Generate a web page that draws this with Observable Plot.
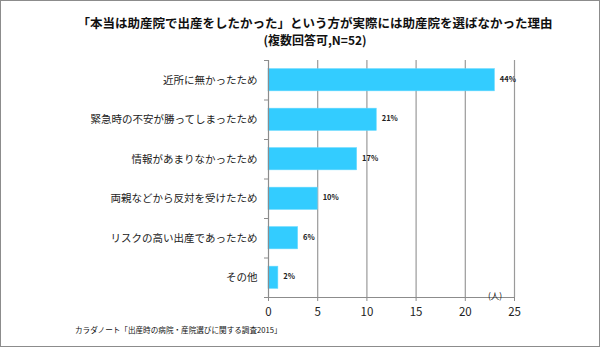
<!DOCTYPE html>
<html><head><meta charset="utf-8">
<script src="https://cdn.jsdelivr.net/npm/d3@7"></script>
<script src="https://cdn.jsdelivr.net/npm/@observablehq/plot@0.6"></script>
<style>
html,body{margin:0;padding:0;background:#fff;}
#wrap{position:relative;width:600px;height:347px;overflow:hidden;font-family:"Noto Sans CJK JP",sans-serif;}
#frame{position:absolute;left:0;top:0;width:598px;height:345px;border:1px solid #8c8c8c;pointer-events:none;}
.t{position:absolute;white-space:nowrap;color:#111;}
#title{left:0;width:630px;text-align:center;top:13px;font-size:12.5px;font-weight:bold;}
#sub{left:0;width:630px;text-align:center;top:31px;font-size:12px;font-weight:bold;}
#unit{left:488px;top:289px;font-size:8.5px;}
#cap{left:75px;top:324px;font-size:7.6px;}
svg{position:absolute;left:0;top:0;}
</style></head><body>
<div id="wrap">
<div id="chart"></div>
<div class="t" id="title">「本当は助産院で出産をしたかった」という方が実際には助産院を選ばなかった理由</div>
<div class="t" id="sub">(複数回答可,N=52)</div>
<div class="t" id="unit">(人)</div>
<div class="t" id="cap">カラダノート「出産時の病院・産院選びに関する調査2015」</div>
<div id="frame"></div>
</div>
<script>
const categories = ["近所に無かったため","緊急時の不安が勝ってしまったため","情報があまりなかったため","両親などから反対を受けたため","リスクの高い出産であったため","その他"];
const counts = [23, 11, 9, 5, 3, 1];
const pctLabels = ["44%","21%","17%","10%","6%","2%"];
const xTicks = [0, 5, 10, 15, 20, 25];

const data = categories.map((c, i) => ({i, c, n: counts[i], p: pctLabels[i]}));
const idx = categories.map((_, i) => i);
const bounds = [-0.5, ...idx.map(i => i + 0.5)];
const half = 0.28;

const chart = Plot.plot({
  width: 600, height: 347,
  marginLeft: 268, marginRight: 86, marginTop: 60, marginBottom: 50,
  style: {fontFamily: "'Noto Sans CJK JP', sans-serif", background: "transparent"},
  x: {domain: [0, 25]},
  y: {domain: [-0.5, 5.5], reverse: true},
  marks: [
    Plot.ruleX(xTicks.filter(d => d > 0), {stroke: "#9a9a9a", strokeWidth: 1.2}),
    Plot.rectX(data, {x1: 0, x2: "n", y1: d => d.i - half, y2: d => d.i + half, fill: "#33ccff", stroke: "#5fd8ff", strokeWidth: 0.6}),
    Plot.text(data, {x: "n", y: "i", text: "p", textAnchor: "start", dx: 5, dy: -1, fontSize: 7.5, fontWeight: "bold", fill: "#222"}),
    Plot.ruleX([0], {stroke: "#8c8c8c", strokeWidth: 1.2}),
    Plot.ruleY([5.5], {stroke: "#8c8c8c", strokeWidth: 1.2}),
    Plot.axisY({ticks: idx, tickFormat: i => categories[i], tickSize: 0, tickPadding: 11, fontSize: 10.5, fill: "#222", label: null}),
    Plot.axisY({ticks: bounds, tickFormat: () => "", tickSize: 4, stroke: "#8c8c8c", label: null}),
    Plot.axisX({ticks: xTicks, tickSize: 4, tickPadding: 6, fontSize: 11.5, stroke: "#8c8c8c", fill: "#222", label: null})
  ]
});
document.getElementById("chart").appendChild(chart);
</script>
</body></html>
